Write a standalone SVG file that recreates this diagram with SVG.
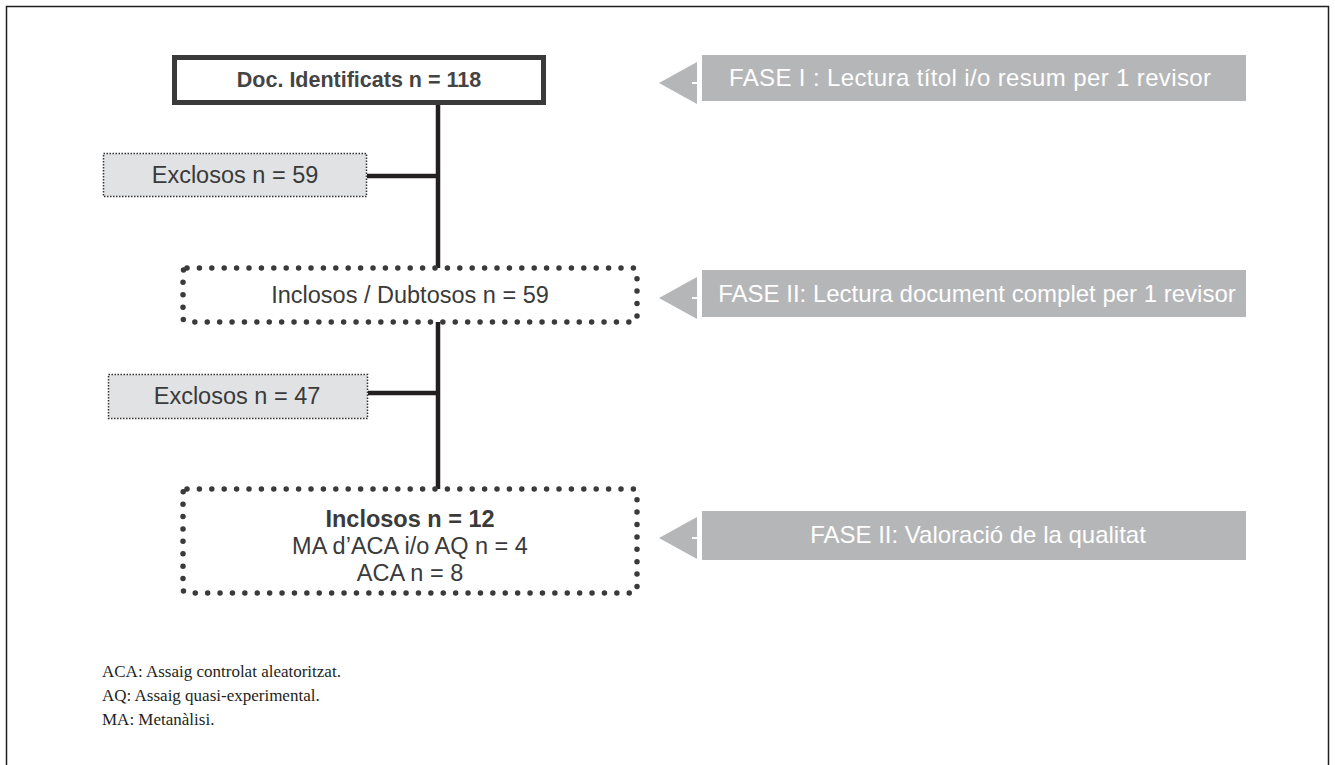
<svg xmlns="http://www.w3.org/2000/svg" width="1335" height="765" viewBox="0 0 1335 765">
<style>
.main{font-family:"Liberation Sans",Arial,sans-serif;font-size:23.5px;fill:#3a3a3a;text-anchor:middle}
.bold{font-weight:bold}
.phase{font-family:"Liberation Sans",Arial,sans-serif;font-size:24px;fill:#ffffff;text-anchor:middle}
.legend{font-family:"Liberation Serif","Times New Roman",serif;font-size:17px;fill:#231f20}
.excl{fill:#e1e2e3;stroke:#333;stroke-width:1.5;stroke-dasharray:1.5 1.5}
.dots{fill:none;stroke:#3a3a3a;stroke-width:5.5;stroke-linecap:round;stroke-dasharray:0 12.4}
.conn{stroke:#231f20;stroke-width:4.5;fill:none}
.arrow{fill:#b5b6b8}
</style>
<rect x="0" y="0" width="1335" height="765" fill="#ffffff"/>
<rect x="6.5" y="6.5" width="1322" height="770" fill="none" stroke="#231f20" stroke-width="1.5"/>

<g id="connectors">
<line class="conn" x1="438" y1="104" x2="438" y2="270"/>
<line class="conn" x1="367" y1="176" x2="438" y2="176"/>
<line class="conn" x1="438" y1="320" x2="438" y2="491"/>
<line class="conn" x1="368" y1="393" x2="438" y2="393"/>
</g>

<g id="doc-identificats">
<rect x="174.5" y="57.5" width="369" height="45" fill="#ffffff" stroke="#3a3a3a" stroke-width="5"/>
<text class="main bold" x="359" y="87" style="font-size:21.5px;fill:#444">Doc. Identificats n = 118</text>
</g>

<g id="exclosos-59">
<rect class="excl" x="103.5" y="153.5" width="263" height="43"/>
<text class="main" x="235" y="183">Exclosos n = 59</text>
</g>

<g id="inclosos-dubtosos">
<rect x="183" y="268" width="454" height="54" rx="4" fill="#ffffff"/>
<rect class="dots" x="183" y="268" width="454" height="54" rx="4"/>
<text class="main" x="410" y="303">Inclosos / Dubtosos n = 59</text>
</g>

<g id="exclosos-47">
<rect class="excl" x="108.5" y="374.5" width="259" height="44"/>
<text class="main" x="237" y="404">Exclosos n = 47</text>
</g>

<g id="inclosos-12">
<rect x="183" y="489" width="454" height="104" rx="4" fill="#ffffff"/>
<rect class="dots" x="183" y="489" width="454" height="104" rx="4"/>
<text class="main bold" x="410" y="527">Inclosos n = 12</text>
<text class="main" x="410" y="554">MA d’ACA i/o AQ n = 4</text>
<text class="main" x="410" y="581">ACA n = 8</text>
</g>

<g id="fase-1">
<polygon class="arrow" points="659,83 697,62 697,104"/>
<rect class="arrow" x="702" y="55" width="544" height="46"/>
<line x1="692" y1="83" x2="698" y2="83" stroke="#fff" stroke-width="2"/>
<text class="phase" x="970" y="86" textLength="482" lengthAdjust="spacing">FASE I : Lectura títol i/o resum per 1 revisor</text>
</g>

<g id="fase-2">
<polygon class="arrow" points="659,298 697,277 697,319"/>
<rect class="arrow" x="702" y="270" width="544" height="47"/>
<line x1="692" y1="298" x2="698" y2="298" stroke="#fff" stroke-width="2"/>
<text class="phase" x="977" y="302">FASE II: Lectura document complet per 1 revisor</text>
</g>

<g id="fase-3">
<polygon class="arrow" points="659,538 697,517 697,559"/>
<rect class="arrow" x="702" y="511" width="544" height="49"/>
<line x1="692" y1="538" x2="698" y2="538" stroke="#fff" stroke-width="2"/>
<text class="phase" x="978" y="543">FASE II: Valoració de la qualitat</text>
</g>

<g id="legend">
<text class="legend" x="102" y="677">ACA: Assaig controlat aleatoritzat.</text>
<text class="legend" x="102" y="701">AQ: Assaig quasi-experimental.</text>
<text class="legend" x="102" y="725">MA: Metanàlisi.</text>
</g>
</svg>
